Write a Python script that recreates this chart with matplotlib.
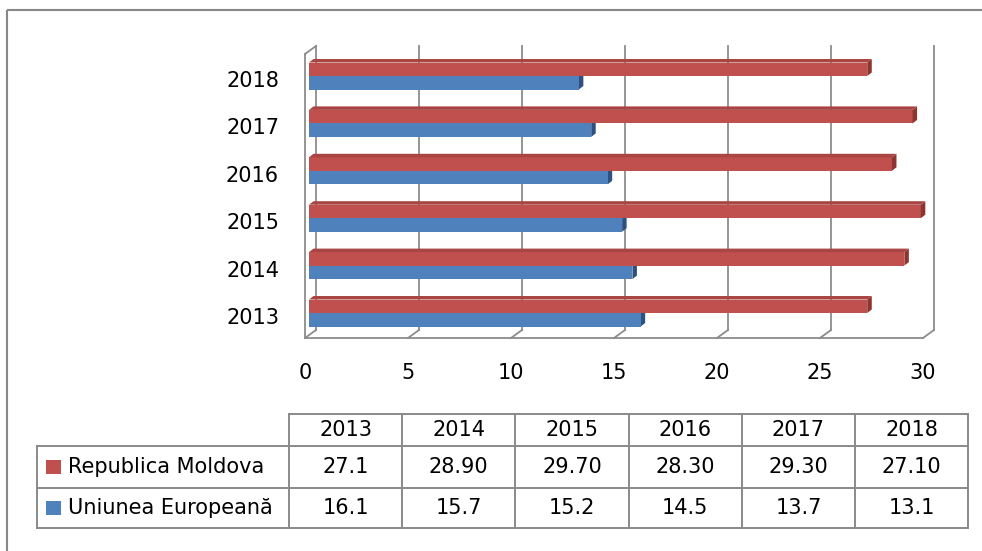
import matplotlib
matplotlib.use('Agg')
import matplotlib.pyplot as plt
from matplotlib.patches import Polygon, Rectangle

# ---------------- data ----------------
years = ['2013', '2014', '2015', '2016', '2017', '2018']
moldova = [27.1, 28.9, 29.7, 28.3, 29.3, 27.1]
moldova_labels = ['27.1', '28.90', '29.70', '28.30', '29.30', '27.10']
eu = [16.1, 15.7, 15.2, 14.5, 13.7, 13.1]
eu_labels = ['16.1', '15.7', '15.2', '14.5', '13.7', '13.1']
series_names = ['Republica Moldova', 'Uniunea Europeană']
xticks = [0, 5, 10, 15, 20, 25, 30]

# ---------------- style ----------------
RED = '#C0504D'
RED_SIDE = '#8E3431'
RED_TOP = '#A94542'
BLUE = '#4F81BD'
BLUE_SIDE = '#2E5182'
GRID = '#8C8C8C'
FS = 15

plt.rcParams['font.family'] = ['DejaVu Sans']

W, H = 982, 551
fig = plt.figure(figsize=(W / 100, H / 100), dpi=100)
fig.patch.set_facecolor('white')

# ---------------- table / frame layer (pixel layout) ----------------
tab = fig.add_axes([0, 0, 1, 1])
tab.set_xlim(0, W)
tab.set_ylim(H, 0)
tab.axis('off')
tab.patch.set_alpha(0)

lw_frame = 1.5
tab.plot([7, W], [10, 10], color='#888888', lw=lw_frame, solid_capstyle='butt')
tab.plot([7, 7], [10, H], color='#888888', lw=lw_frame, solid_capstyle='butt')

col0 = 289
colw = 113.2
col_edges = [col0 + k * colw for k in range(len(years) + 1)]
row_y = [414, 446, 488, 528]
lab_left = 37
tcol = '#8A8A8A'
tlw = 1.4
tab.plot([col_edges[0], col_edges[-1]], [row_y[0]] * 2, color=tcol, lw=tlw)
for yy in row_y[1:]:
    tab.plot([lab_left, col_edges[-1]], [yy, yy], color=tcol, lw=tlw)
tab.plot([lab_left, lab_left], [row_y[1], row_y[3]], color=tcol, lw=tlw)
for xx in col_edges:
    tab.plot([xx, xx], [row_y[0], row_y[3]], color=tcol, lw=tlw)

for k, yr in enumerate(years):
    cx = (col_edges[k] + col_edges[k + 1]) / 2
    tab.text(cx, (row_y[0] + row_y[1]) / 2, yr, ha='center', va='center', fontsize=FS)
    tab.text(cx, (row_y[1] + row_y[2]) / 2, moldova_labels[k], ha='center', va='center', fontsize=FS)
    tab.text(cx, (row_y[2] + row_y[3]) / 2, eu_labels[k], ha='center', va='center', fontsize=FS)

for r, (name, col) in enumerate(zip(series_names, [RED, BLUE])):
    yc = (row_y[r + 1] + row_y[r + 2]) / 2
    tab.add_patch(Rectangle((46, yc - 7), 15, 14, color=col, lw=0))
    tab.text(68, yc, name, ha='left', va='center', fontsize=FS)

# ---------------- main 3D-like bar chart ----------------
x0_px, x30_px = 309, 927
ppu = (x30_px - x0_px) / 30.0      # pixels per unit
spacing = 47.4                      # pixels per category
grp0_px = 313
ax_top_px, ax_bot_px = 30, 350
ax = fig.add_axes([x0_px / W, 1 - ax_bot_px / H,
                   (x30_px - x0_px) / W, (ax_bot_px - ax_top_px) / H])
ax.set_xlim(0, 30)
ax.set_ylim((grp0_px - ax_bot_px) / spacing, (grp0_px - ax_top_px) / spacing)
ax.axis('off')
ax.patch.set_alpha(0)

ux = 1 / ppu
uy = 1 / spacing
floor = (grp0_px - 334) / spacing
top = (grp0_px - 50) / spacing
bdx, bdy = 7 * ux, 4 * uy
fdx, fdy = -4 * ux, -4 * uy
glw = 1.3

for t in xticks:
    ax.plot([t + bdx, t + bdx], [floor + bdy, top + bdy], color=GRID, lw=glw, clip_on=False, zorder=1)
    ax.plot([t + bdx, t + fdx], [floor + bdy, floor + fdy], color=GRID, lw=glw, clip_on=False, zorder=1)
ax.plot([xticks[0] + fdx, xticks[-1] + fdx], [floor + fdy] * 2, color=GRID, lw=glw, clip_on=False, zorder=1)
ax.plot([fdx, fdx], [floor + fdy, top + fdy], color=GRID, lw=glw, clip_on=False, zorder=1)
ax.plot([fdx, bdx], [top + fdy, top + bdy], color=GRID, lw=glw, clip_on=False, zorder=1)

h = 13.5 / spacing
ddx, ddy = 4.5 * ux, 3.5 * uy
pos = list(range(len(years)))
ax.barh([p - h / 2 for p in pos], eu, height=h, color=BLUE, lw=0, zorder=3)
ax.barh([p + h / 2 for p in pos], moldova, height=h, color=RED, lw=0, zorder=3)

for p, v in zip(pos, eu):
    yb, yt = p - h, p
    ax.add_patch(Polygon([(v, yb), (v + ddx, yb + ddy), (v + ddx, yt + ddy), (v, yt)],
                         closed=True, color=BLUE_SIDE, lw=0, zorder=2.5, clip_on=False))
for p, v in zip(pos, moldova):
    yb, yt = p, p + h
    ax.add_patch(Polygon([(v, yb), (v + ddx, yb + ddy), (v + ddx, yt + ddy), (v, yt)],
                         closed=True, color=RED_SIDE, lw=0, zorder=4, clip_on=False))
    ax.add_patch(Polygon([(0, yt), (ddx, yt + ddy), (v + ddx, yt + ddy), (v, yt)],
                         closed=True, color=RED_TOP, lw=0, zorder=4, clip_on=False))

for p, yr in zip(pos, years):
    ax.annotate(yr, (0, p), xytext=(-30, -5), textcoords='offset pixels',
                ha='right', va='center', fontsize=FS, annotation_clip=False)
for t in xticks:
    ax.annotate(str(t), (t + fdx, floor + fdy), xytext=(0, -35), textcoords='offset pixels',
                ha='center', va='center', fontsize=FS, annotation_clip=False)

fig.savefig('out.png', dpi=100)
